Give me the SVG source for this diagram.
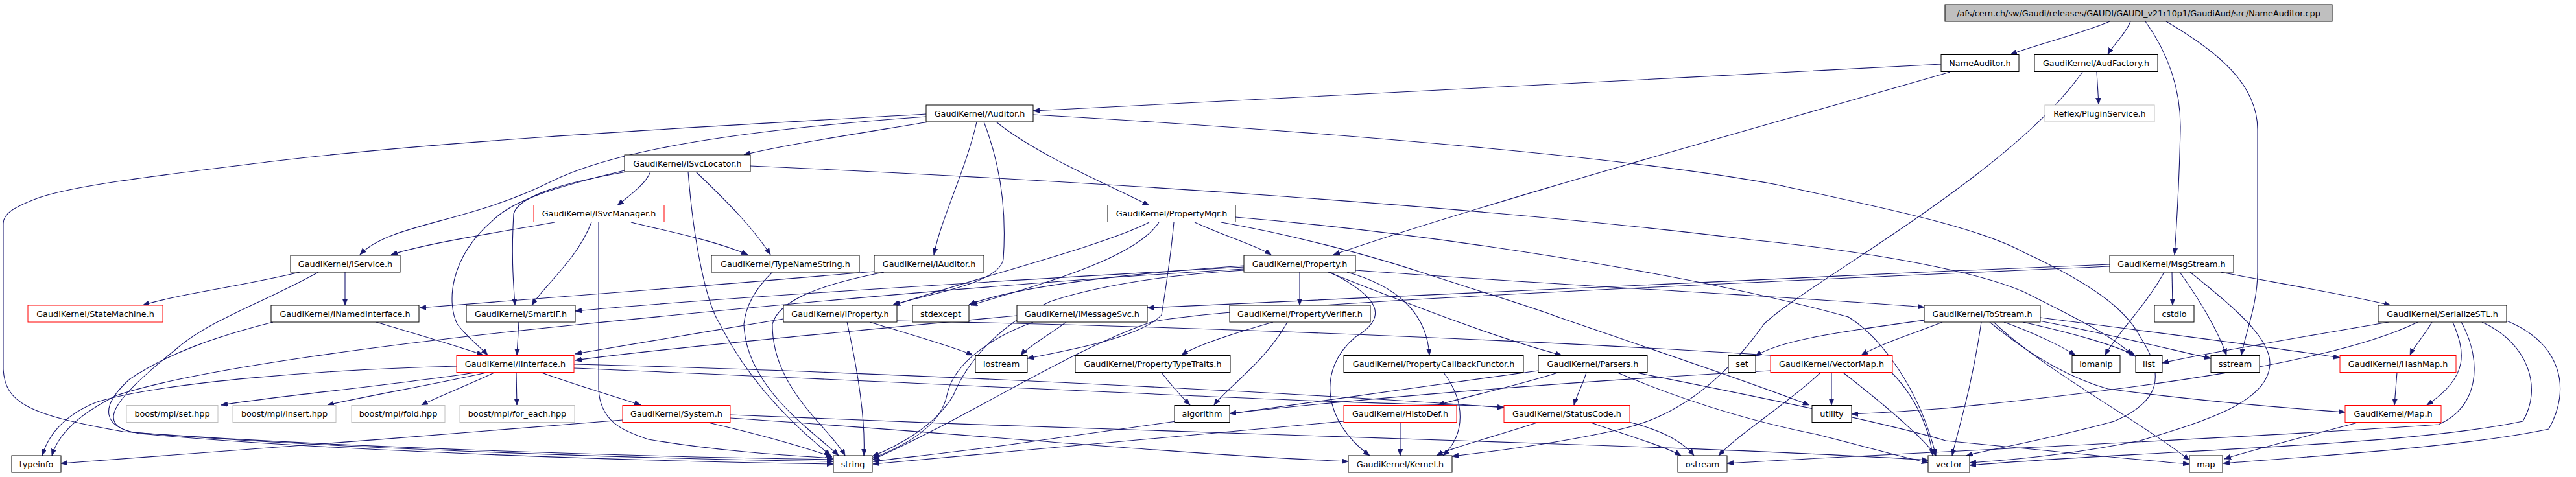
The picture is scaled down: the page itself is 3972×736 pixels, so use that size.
<svg xmlns="http://www.w3.org/2000/svg" width="3972" height="736" viewBox="0 0 3972 736">
<style>
rect{fill:#fff;stroke:#000;stroke-width:1}
.r{stroke:#f00}
.g{stroke:#bfbfbf}
.top{fill:#bfbfbf}
text{font-family:"DejaVu Sans","Liberation Sans",sans-serif;font-size:12.8px;fill:#000;text-anchor:middle}
.e path{fill:none;stroke:#191970;stroke-width:1.1;marker-end:url(#a)}
</style>
<defs>
<marker id="a" markerWidth="11" markerHeight="8" refX="10" refY="4" orient="auto" markerUnits="userSpaceOnUse"><path d="M0,0 L10,4 L0,8 z" fill="#191970" stroke="#191970" stroke-width="0.5"/></marker>
</defs>
<rect x="0" y="0" width="3972" height="736" style="fill:#fff;stroke:none"/>
<g class="e" id="edges">
<path d="M3253,33 C3210,52 3135,70 3100,84"/>
<path d="M3285,33 C3278,52 3258,70 3250,84"/>
<path d="M3308,33 C3345,85 3363,140 3362,200 C3360,290 3356,350 3353,393"/>
<path d="M3340,33 C3420,80 3481,130 3481,200 L3481,420 C3481,470 3462,515 3456,548"/>
<path d="M2993,99 C2500,125 1900,155 1593,171"/>
<path d="M3007,111 C2700,200 2300,310 2056,393"/>
<path d="M3233,111 L3236,161"/>
<path d="M3211,111 C3100,270 2780,440 2720,500 C2670,570 2600,640 2500,662 C2400,685 2300,697 2239,704"/>
<path d="M1432,188 C1330,205 1200,225 1147,239"/>
<path d="M1428,180 C1150,200 950,230 850,280 C720,345 600,345 555,393"/>
<path d="M1428,176 C1100,195 700,215 420,249 C250,270 120,285 60,305 C20,320 5,330 5,345 L5,570 C8,620 40,640 190,666 C500,690 1000,705 1285,709"/>
<path d="M1506,188 C1490,260 1450,340 1440,393"/>
<path d="M1517,188 C1545,260 1552,330 1547,400 C1540,440 1420,455 1376,471"/>
<path d="M1536,188 C1600,240 1720,290 1772,317"/>
<path d="M1593,177 C2000,200 2500,240 2740,285 C2900,320 3050,350 3122,390 C3230,440 3280,480 3300,520 C3340,580 3330,620 3260,650 C3150,680 3060,695 3032,703"/>
<path d="M1003,265 C995,285 970,302 952,317"/>
<path d="M963,263 C850,290 790,310 760,340 C690,400 690,470 705,500 C720,520 740,535 752,548"/>
<path d="M966,265 C880,280 800,300 792,330 C788,400 792,440 794,471"/>
<path d="M1073,265 C1120,310 1160,350 1188,393"/>
<path d="M1061,265 C1070,380 1090,470 1110,500 C1160,600 1240,670 1281,703"/>
<path d="M1157,256 C1700,280 2300,320 2700,370 C2900,390 3050,420 3120,450 C3200,490 3260,520 3288,548"/>
<path d="M855,343 C760,360 660,375 603,393"/>
<path d="M912,343 C890,400 840,440 820,471"/>
<path d="M923,343 L923,600 C925,650 960,665 1000,678 C1100,695 1200,702 1285,707"/>
<path d="M973,343 C1020,355 1100,370 1153,393"/>
<path d="M462,420 C380,440 270,455 220,471"/>
<path d="M532,420 L532,471"/>
<path d="M491,420 C400,470 320,495 270,540 C170,620 150,655 205,667 C500,692 1000,708 1285,712"/>
<path d="M580,497 C640,515 710,535 745,548"/>
<path d="M421,497 C330,520 260,545 200,585 C150,630 160,660 215,669 C500,696 1000,712 1285,716"/>
<path d="M800,497 L797,548"/>
<path d="M733,575 C600,595 420,612 341,625"/>
<path d="M750,575 C660,595 560,612 505,625"/>
<path d="M762,575 C720,595 675,612 650,625"/>
<path d="M796,575 L797,625"/>
<path d="M835,575 C890,595 950,612 988,625"/>
<path d="M704,565 C500,570 250,590 150,620 C100,640 75,670 65,703"/>
<path d="M885,562 C1300,572 2000,605 2319,629"/>
<path d="M885,568 C1400,590 2000,620 2200,624 C2450,628 2570,650 2612,703"/>
<path d="M1348,419 C1100,440 800,465 647,475"/>
<path d="M1363,420 C1260,440 1200,465 1191,500 C1190,600 1280,660 1303,703"/>
<path d="M1191,420 C1165,445 1150,470 1147,500 C1150,600 1260,670 1293,703"/>
<path d="M1918,412 C1600,430 1100,460 887,480"/>
<path d="M1918,415 C1500,440 1100,480 900,500 C600,530 300,570 180,610 C120,640 90,670 80,703"/>
<path d="M1918,410 C1700,425 1560,445 1494,470"/>
<path d="M1918,417 C1780,425 1680,445 1620,465 C1540,500 1490,560 1470,610 C1440,660 1380,690 1345,704"/>
<path d="M2090,417 C2400,440 2800,460 2967,474"/>
<path d="M2004,420 L2004,471"/>
<path d="M2077,420 C2150,440 2200,480 2204,548"/>
<path d="M2051,420 C2130,460 2140,490 2090,520 C2030,570 2040,650 2112,703"/>
<path d="M2048,420 C2150,460 2300,520 2408,548"/>
<path d="M1772,343 C1700,380 1500,430 1378,471"/>
<path d="M1787,343 C1750,400 1600,440 1497,471"/>
<path d="M1842,343 C1890,365 1940,380 1960,393"/>
<path d="M1810,343 C1805,400 1795,460 1791,486 C1760,520 1650,540 1584,553"/>
<path d="M1905,335 C2200,360 2600,420 2850,489 C2900,520 2960,600 2985,703"/>
<path d="M1883,343 C1980,360 2100,390 2191,420 C2300,455 2380,480 2402,489 C2550,540 2700,590 2790,625"/>
<path d="M1208,492 C1100,510 950,535 887,546"/>
<path d="M1568,487 C1300,512 1000,540 887,556"/>
<path d="M1341,497 C1400,515 1470,535 1500,548"/>
<path d="M1306,497 C1320,560 1335,640 1332,703"/>
<path d="M1383,495 C1900,505 2500,530 2900,560 C2950,600 2975,660 2980,703"/>
<path d="M1644,497 C1620,515 1585,535 1574,548"/>
<path d="M1593,497 C1530,520 1470,560 1460,610 C1450,660 1390,690 1345,707"/>
<path d="M3253,408 C2700,430 2100,460 1769,475"/>
<path d="M3253,411 C2600,440 1900,470 1775,497 C1650,540 1500,640 1346,709"/>
<path d="M3349,420 L3350,471"/>
<path d="M3424,420 C3530,440 3620,455 3686,471"/>
<path d="M3337,420 C3310,470 3260,520 3246,548"/>
<path d="M3361,420 C3390,460 3420,510 3433,548"/>
<path d="M3377,420 C3440,470 3500,520 3500,560 C3500,620 3400,650 3300,680 C3200,700 3100,710 3037,714"/>
<path d="M2967,494 C2850,510 2740,525 2707,550"/>
<path d="M2995,497 C2950,515 2900,530 2870,548"/>
<path d="M3090,497 C3140,515 3180,535 3200,548"/>
<path d="M3119,497 C3200,515 3270,535 3293,550"/>
<path d="M3144,495 C3250,515 3350,540 3409,553"/>
<path d="M3146,490 C3300,510 3500,535 3608,552"/>
<path d="M3068,497 C3120,540 3180,580 3250,600 C3400,620 3530,630 3616,636"/>
<path d="M3074,497 C3150,570 3300,650 3376,710"/>
<path d="M3055,497 C3040,600 3020,660 3010,703"/>
<path d="M1963,497 C1900,515 1840,535 1822,548"/>
<path d="M1985,497 C1950,560 1890,600 1872,625"/>
<path d="M1791,575 C1810,600 1825,615 1835,625"/>
<path d="M2730,572 C2400,590 2100,615 1896,638"/>
<path d="M2824,575 L2824,625"/>
<path d="M2807,575 C2760,620 2680,670 2650,703"/>
<path d="M2842,575 C2900,620 2960,670 2985,703"/>
<path d="M2402,575 C2340,595 2260,612 2217,625"/>
<path d="M2446,575 C2440,595 2430,612 2427,625"/>
<path d="M2372,572 C2100,610 1800,650 1600,680 C1500,695 1400,705 1346,712"/>
<path d="M2494,575 C2600,620 2700,650 2800,670 C2880,690 2930,705 2973,714"/>
<path d="M2523,575 C2650,600 2900,650 3000,680 C3200,700 3300,710 3376,716"/>
<path d="M2159,652 L2159,703"/>
<path d="M2072,650 C1800,675 1500,700 1346,716"/>
<path d="M2370,652 C2300,675 2240,690 2215,703"/>
<path d="M2453,652 C2510,672 2570,690 2592,703"/>
<path d="M2226,575 C2260,620 2260,670 2225,703"/>
<path d="M960,648 C700,670 300,700 94,715"/>
<path d="M1092,652 C1170,670 1240,690 1283,705"/>
<path d="M1126,645 C1500,670 1800,700 2079,712"/>
<path d="M1126,640 C1600,660 2200,680 2400,685 C2700,695 2900,705 2973,710"/>
<path d="M3683,497 C3550,520 3400,545 3334,560"/>
<path d="M3750,497 C3740,515 3722,535 3716,548"/>
<path d="M3782,497 C3800,540 3810,580 3742,625"/>
<path d="M3728,497 C3600,560 3300,600 3000,630 C2950,634 2900,637 2855,639"/>
<path d="M3827,497 C3900,530 3920,600 3890,650 C3700,690 3300,695 3037,718"/>
<path d="M3795,497 C3830,560 3820,630 3760,655 C3400,680 2900,700 2663,715"/>
<path d="M3865,495 C3950,530 3965,600 3930,662 C3800,690 3550,705 3428,715"/>
<path d="M3696,575 L3692,625"/>
<path d="M3635,652 C3550,675 3470,695 3430,708"/>
</g>
<g id="n0"><rect class="top" x="2999" y="7" width="597" height="26"/><text x="3297.5" y="24.5">/afs/cern.ch/sw/Gaudi/releases/GAUDI/GAUDI_v21r10p1/GaudiAud/src/NameAuditor.cpp</text></g>
<g id="n_NameAuditor"><rect x="2993" y="84.5" width="120" height="26"/><text x="3053" y="102">NameAuditor.h</text></g>
<g id="n_AudFactory"><rect x="3137" y="84.5" width="190" height="26"/><text x="3232" y="102">GaudiKernel/AudFactory.h</text></g>
<g id="n_PluginService"><rect class="g" x="3153" y="162" width="169" height="26"/><text x="3237.5" y="179.5">Reflex/PluginService.h</text></g>
<g id="n_Auditor"><rect x="1428" y="162" width="165" height="26"/><text x="1510.5" y="179.5">GaudiKernel/Auditor.h</text></g>
<g id="n_ISvcLocator"><rect x="963" y="239" width="194" height="26"/><text x="1060" y="256.5">GaudiKernel/ISvcLocator.h</text></g>
<g id="n_ISvcManager"><rect class="r" x="823" y="316.5" width="201" height="26"/><text x="923.5" y="334">GaudiKernel/ISvcManager.h</text></g>
<g id="n_PropertyMgr"><rect x="1708" y="316.5" width="197" height="26"/><text x="1806.5" y="334">GaudiKernel/PropertyMgr.h</text></g>
<g id="n_IService"><rect x="448" y="394" width="169" height="26"/><text x="532.5" y="411.5">GaudiKernel/IService.h</text></g>
<g id="n_TypeNameString"><rect x="1097" y="394" width="228" height="26"/><text x="1211" y="411.5">GaudiKernel/TypeNameString.h</text></g>
<g id="n_IAuditor"><rect x="1348" y="394" width="169" height="26"/><text x="1432.5" y="411.5">GaudiKernel/IAuditor.h</text></g>
<g id="n_Property"><rect x="1918" y="394" width="172" height="26"/><text x="2004" y="411.5">GaudiKernel/Property.h</text></g>
<g id="n_MsgStream"><rect x="3253" y="394" width="191" height="26"/><text x="3348.5" y="411.5">GaudiKernel/MsgStream.h</text></g>
<g id="n_StateMachine"><rect class="r" x="43" y="471" width="208" height="26"/><text x="147" y="488.5">GaudiKernel/StateMachine.h</text></g>
<g id="n_INamedInterface"><rect x="418" y="471" width="228" height="26"/><text x="532" y="488.5">GaudiKernel/INamedInterface.h</text></g>
<g id="n_SmartIF"><rect x="719" y="471" width="168" height="26"/><text x="803" y="488.5">GaudiKernel/SmartIF.h</text></g>
<g id="n_IProperty"><rect x="1208" y="471" width="175" height="26"/><text x="1295.5" y="488.5">GaudiKernel/IProperty.h</text></g>
<g id="n_stdexcept"><rect x="1407" y="471" width="87" height="26"/><text x="1450.5" y="488.5">stdexcept</text></g>
<g id="n_IMessageSvc"><rect x="1568" y="471" width="201" height="26"/><text x="1668.5" y="488.5">GaudiKernel/IMessageSvc.h</text></g>
<g id="n_PropertyVerifier"><rect x="1896" y="471" width="217" height="26"/><text x="2004.5" y="488.5">GaudiKernel/PropertyVerifier.h</text></g>
<g id="n_ToStream"><rect x="2967" y="471" width="179" height="26"/><text x="3056.5" y="488.5">GaudiKernel/ToStream.h</text></g>
<g id="n_cstdio"><rect x="3322" y="471" width="61" height="26"/><text x="3352.5" y="488.5">cstdio</text></g>
<g id="n_SerializeSTL"><rect x="3667" y="471" width="198" height="26"/><text x="3766" y="488.5">GaudiKernel/SerializeSTL.h</text></g>
<g id="n_IInterface"><rect class="r" x="704" y="548.5" width="181" height="26"/><text x="794.5" y="566">GaudiKernel/IInterface.h</text></g>
<g id="n_iostream"><rect x="1504" y="548.5" width="80" height="26"/><text x="1544" y="566">iostream</text></g>
<g id="n_PropertyTypeTraits"><rect x="1658" y="548.5" width="239" height="26"/><text x="1777.5" y="566">GaudiKernel/PropertyTypeTraits.h</text></g>
<g id="n_PropertyCallbackFunctor"><rect x="2072" y="548.5" width="277" height="26"/><text x="2210.5" y="566">GaudiKernel/PropertyCallbackFunctor.h</text></g>
<g id="n_Parsers"><rect x="2372" y="548.5" width="168" height="26"/><text x="2456" y="566">GaudiKernel/Parsers.h</text></g>
<g id="n_set"><rect x="2665" y="548.5" width="42" height="26"/><text x="2686" y="566">set</text></g>
<g id="n_VectorMap"><rect class="r" x="2730" y="548.5" width="188" height="26"/><text x="2824" y="566">GaudiKernel/VectorMap.h</text></g>
<g id="n_iomanip"><rect x="3195" y="548.5" width="74" height="26"/><text x="3232" y="566">iomanip</text></g>
<g id="n_list"><rect x="3293" y="548.5" width="41" height="26"/><text x="3313.5" y="566">list</text></g>
<g id="n_sstream"><rect x="3409" y="548.5" width="75" height="26"/><text x="3446.5" y="566">sstream</text></g>
<g id="n_HashMap"><rect class="r" x="3608" y="548.5" width="179" height="26"/><text x="3697.5" y="566">GaudiKernel/HashMap.h</text></g>
<g id="n_mplset"><rect class="g" x="195" y="625.5" width="141" height="26"/><text x="265.5" y="643">boost/mpl/set.hpp</text></g>
<g id="n_mplinsert"><rect class="g" x="359" y="625.5" width="159" height="26"/><text x="438.5" y="643">boost/mpl/insert.hpp</text></g>
<g id="n_mplfold"><rect class="g" x="542" y="625.5" width="144" height="26"/><text x="614" y="643">boost/mpl/fold.hpp</text></g>
<g id="n_mplforeach"><rect class="g" x="709" y="625.5" width="177" height="26"/><text x="797.5" y="643">boost/mpl/for_each.hpp</text></g>
<g id="n_System"><rect class="r" x="960" y="625.5" width="166" height="26"/><text x="1043" y="643">GaudiKernel/System.h</text></g>
<g id="n_algorithm"><rect x="1811" y="625.5" width="85" height="26"/><text x="1853.5" y="643">algorithm</text></g>
<g id="n_HistoDef"><rect class="r" x="2072" y="625.5" width="174" height="26"/><text x="2159" y="643">GaudiKernel/HistoDef.h</text></g>
<g id="n_StatusCode"><rect class="r" x="2319" y="625.5" width="194" height="26"/><text x="2416" y="643">GaudiKernel/StatusCode.h</text></g>
<g id="n_utility"><rect x="2794" y="625.5" width="61" height="26"/><text x="2824.5" y="643">utility</text></g>
<g id="n_Map"><rect class="r" x="3616" y="625.5" width="148" height="26"/><text x="3690" y="643">GaudiKernel/Map.h</text></g>
<g id="n_typeinfo"><rect x="18" y="703" width="76" height="26"/><text x="56" y="720.5">typeinfo</text></g>
<g id="n_string"><rect x="1285" y="703" width="60" height="26"/><text x="1315" y="720.5">string</text></g>
<g id="n_Kernel"><rect x="2079" y="703" width="160" height="26"/><text x="2159" y="720.5">GaudiKernel/Kernel.h</text></g>
<g id="n_ostream"><rect x="2587" y="703" width="76" height="26"/><text x="2625" y="720.5">ostream</text></g>
<g id="n_vector"><rect x="2973" y="703" width="64" height="26"/><text x="3005" y="720.5">vector</text></g>
<g id="n_map"><rect x="3376" y="703" width="51" height="26"/><text x="3401.5" y="720.5">map</text></g>
</svg>
